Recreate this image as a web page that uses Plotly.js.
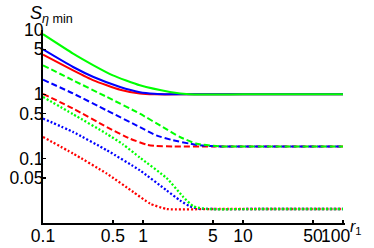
<!DOCTYPE html>
<html><head><meta charset="utf-8">
<script src="https://cdn.plot.ly/plotly-3.0.1.min.js"></script>
<style>html,body{margin:0;padding:0;background:#fff}#c{width:374px;height:248px}</style>
</head><body><div id="c"></div>
<script>
// Solid curves
var solidGreenX = [0.1, 0.2, 0.32, 0.5, 0.93, 1.86, 2.9, 10, 100];
var solidGreenY = [8.6, 4.3, 2.83, 1.97, 1.38, 1.09, 1.0, 1.0, 1.0];
var solidBlueX  = [0.1, 0.2, 0.32, 0.59, 0.93, 1.3, 1.9, 5, 100];
var solidBlueY  = [5.0, 2.66, 1.86, 1.3, 1.08, 1.02, 1.0, 1.0, 1.0];
var solidRedX   = [0.1, 0.2, 0.32, 0.59, 0.93, 1.3, 3, 100];
var solidRedY   = [4.14, 2.36, 1.65, 1.18, 1.03, 1.0, 1.0, 1.0];
// Dashed curves
var dashGreenX = [0.1, 0.2, 0.435, 0.93, 1.58, 2.34, 3.43, 5.9, 20, 100];
var dashGreenY = [2.83, 1.65, 0.91, 0.50, 0.31, 0.217, 0.171, 0.155, 0.155, 0.155];
var dashBlueX  = [0.1, 0.2, 0.435, 0.93, 1.36, 2.0, 2.95, 3.7, 6, 20, 100];
var dashBlueY  = [1.69, 1.03, 0.56, 0.31, 0.23, 0.193, 0.171, 0.161, 0.155, 0.155, 0.155];
var dashRedX   = [0.1, 0.2, 0.435, 0.74, 1.09, 1.35, 2, 5, 100];
var dashRedY   = [1.02, 0.6, 0.31, 0.205, 0.165, 0.157, 0.155, 0.155, 0.155];
// Dotted curves
var dotGreenX = [0.1, 0.2, 0.435, 0.63, 0.93, 1.72, 2.53, 3.2, 4.4, 15, 100];
var dotGreenY = [0.91, 0.49, 0.242, 0.167, 0.104, 0.05, 0.0253, 0.0181, 0.0165, 0.0165, 0.0165];
var dotBlueX  = [0.1, 0.2, 0.435, 0.93, 1.72, 2.34, 2.95, 3.7, 5, 15, 100];
var dotBlueY  = [0.42, 0.26, 0.135, 0.0658, 0.0322, 0.0225, 0.0181, 0.0167, 0.0165, 0.0165, 0.0165];
var dotRedX   = [0.1, 0.2, 0.435, 0.8, 1.18, 1.72, 5, 100];
var dotRedY   = [0.217, 0.12, 0.0585, 0.0303, 0.02, 0.0165, 0.0165, 0.0165];

var xTickVals = [0.1, 0.5, 1, 5, 10, 50, 100];
var xTickText = ['0.1', '0.5', '1', '5', '10', '50', '100\u00a0\u00a0\u00a0'];
var yTickVals = [0.05, 0.1, 0.5, 1, 5, 10];
var yTickText = ['0.05', '0.1', '0.5', '1', '5', '10'];

var RED = '#ff0000', BLUE = '#0000ff', GREEN = '#00ff00';
var DASH = '6px,3px', DOT = '2px,2px';

function tr(x, y, color, dash, w) {
  return {x: x, y: y, type: 'scatter', mode: 'lines', hoverinfo: 'skip',
    line: {color: color, width: w || 2, dash: dash, shape: 'spline', smoothing: 0.5}};
}
var data = [
  tr(dotRedX, dotRedY, RED, DOT, 2.3), tr(dotBlueX, dotBlueY, BLUE, DOT, 2.3), tr(dotGreenX, dotGreenY, GREEN, DOT, 2.3),
  tr(dashRedX, dashRedY, RED, DASH), tr(dashBlueX, dashBlueY, BLUE, DASH), tr(dashGreenX, dashGreenY, GREEN, DASH),
  tr(solidRedX, solidRedY, RED, 'solid'), tr(solidBlueX, solidBlueY, BLUE, 'solid'), tr(solidGreenX, solidGreenY, GREEN, 'solid')
];
var tickFont = {family: 'Liberation Sans, Arial, sans-serif', size: 17.5, color: '#000'};
var layout = {
  width: 374, height: 248,
  margin: {l: 43, r: 29, t: 30, b: 25, pad: 0},
  paper_bgcolor: '#fff', plot_bgcolor: '#fff',
  showlegend: false,
  xaxis: {type: 'log', range: [-1, 2.02], showgrid: false, zeroline: false,
    showline: true, linecolor: '#000', linewidth: 2,
    ticks: 'inside', ticklen: 3, tickwidth: 1.2, tickcolor: '#000', tickangle: 0,
    tickvals: xTickVals, ticktext: xTickText, tickfont: tickFont, ticklabelstandoff: -4},
  yaxis: {type: 'log', range: [-2, 1], showgrid: false, zeroline: false,
    showline: true, linecolor: '#000', linewidth: 2,
    ticks: 'inside', ticklen: 3, tickwidth: 1.2, tickcolor: '#000',
    tickvals: yTickVals, ticktext: yTickText, tickfont: tickFont, ticklabelstandoff: -6},
  annotations: [
    {xref: 'paper', yref: 'paper', x: 0, y: 1, xanchor: 'center', yanchor: 'bottom', yshift: 2, xshift: 8,
     showarrow: false, text: '<i>S</i><sub><i>η</i> min</sub>',
     font: {family: 'Liberation Sans, Arial, sans-serif', size: 18, color: '#000'}},
    {xref: 'paper', yref: 'paper', x: 1, y: 0, xanchor: 'left', yanchor: 'middle', xshift: 3, yshift: -4,
     showarrow: false, text: '<i>r</i><sub>1</sub>',
     font: {family: 'Liberation Sans, Arial, sans-serif', size: 16, color: '#000'}}
  ]
};
Plotly.newPlot('c', data, layout, {staticPlot: true, displayModeBar: false});
</script></body></html>
